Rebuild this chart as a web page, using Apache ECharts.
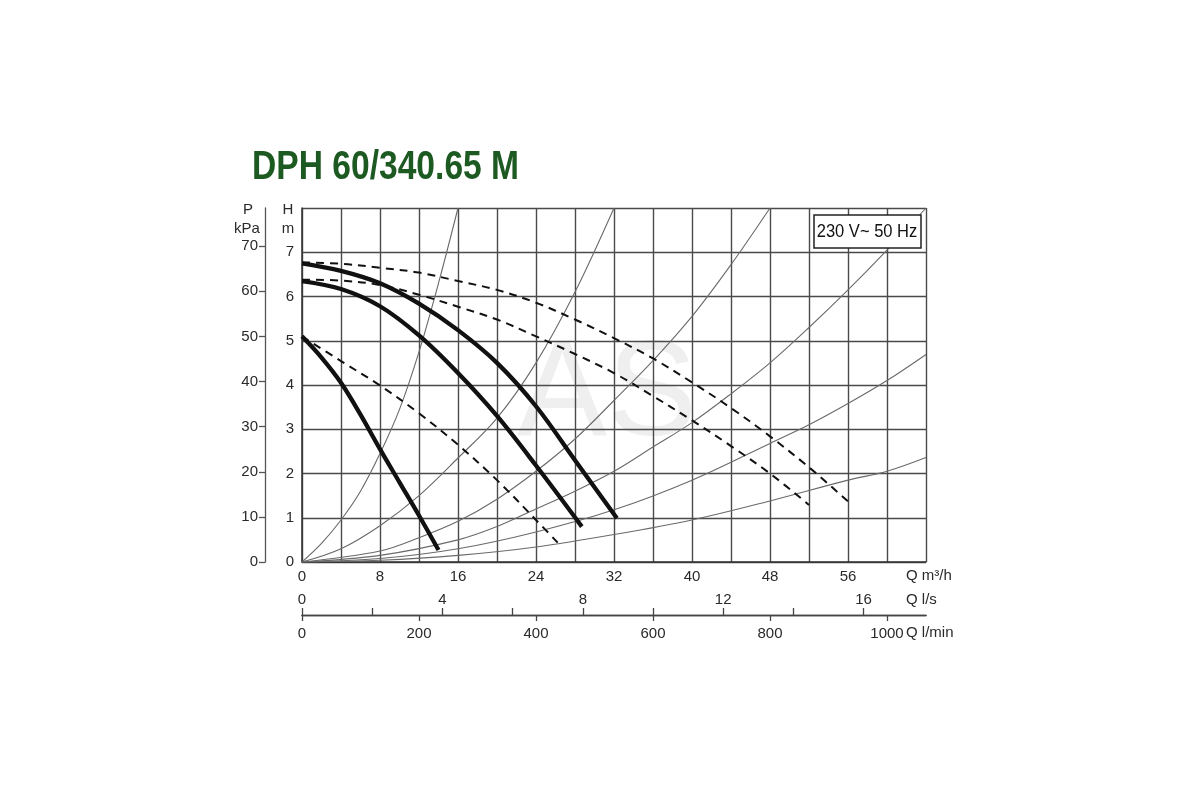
<!DOCTYPE html>
<html>
<head>
<meta charset="utf-8">
<script src="https://cdn.jsdelivr.net/npm/echarts@6/dist/echarts.min.js"></script>
<style>
html,body{margin:0;padding:0;background:#fff;}
#chart{width:1200px;height:800px;}
</style>
</head>
<body>
<div id="chart"></div>
<script>
// ---- Data (Q in m3/h, H in m) ----
const titleText = 'DPH 60/340.65 M';
const supplyText = '230 V~ 50 Hz';

const qTicksMain = [0, 8, 16, 24, 32, 40, 48, 56];
const qLsTicks = [0, 2, 4, 6, 8, 10, 12, 14, 16];
const qLsLabels = [0, 4, 8, 12, 16];
const qLminTicks = [0, 200, 400, 600, 800, 1000];
const pKpaTicks = [0, 10, 20, 30, 40, 50, 60, 70];

// pump curves (solid)
const pumpHighSolid = [[0,6.75],[4,6.58],[8,6.3],[12,5.84],[16,5.24],[20,4.5],[24,3.52],[28,2.3],[32.3,0.99]];
const pumpMidSolid  = [[0,6.35],[4,6.17],[8,5.78],[12,5.12],[16,4.27],[20,3.3],[24,2.18],[28.7,0.8]];
const pumpLowSolid  = [[0,5.1],[2,4.62],[4,4.05],[6,3.33],[8,2.55],[10,1.8],[12,1.05],[14,0.27]];

// pump curves (dashed)
const pumpHighDash = [[0,6.77],[4,6.74],[8,6.65],[12,6.54],[16,6.35],[20,6.15],[24,5.86],[28,5.48],[32,5.06],[36,4.6],[40,4.06],[44,3.48],[48,2.84],[52,2.14],[56,1.37]];
const pumpMidDash  = [[0,6.38],[4,6.36],[8,6.26],[12,6.04],[16,5.77],[20,5.48],[24,5.1],[28,4.7],[32,4.27],[36,3.75],[40,3.2],[44,2.62],[48,2.0],[52,1.29]];
const pumpLowDash  = [[0,5.1],[4,4.54],[8,3.99],[12,3.36],[16,2.65],[20,1.85],[24,0.95],[26.3,0.42]];

// system (thin) curves
const sys1 = [[0,0],[2,0.42],[4,0.95],[6,1.6],[8,2.45],[10,3.45],[12,4.75],[14,6.3],[16,8.0]];
const sys2 = [[0,0],[4,0.3],[8,0.82],[12,1.5],[16,2.35],[20,3.25],[24,4.5],[28,6.1],[32,8.0]];
const sys3 = [[0,0],[8,0.25],[12,0.55],[16,0.92],[20,1.42],[24,2.05],[28,2.78],[32,3.65],[36,4.55],[40,5.55],[44,6.72],[48,8.0]];
const sys4 = [[0,0],[8,0.15],[16,0.5],[20,0.8],[24,1.2],[28,1.6],[32,2.05],[36,2.6],[40,3.15],[44,3.8],[48,4.5],[52,5.3],[56,6.15],[60,7.05],[64,8.0]];
const sys5 = [[0,0],[8,0.08],[16,0.3],[24,0.68],[32,1.18],[40,1.85],[48,2.68],[52,3.1],[56,3.58],[60,4.1],[64,4.69]];
const sys6 = [[0,0],[8,0.04],[16,0.15],[24,0.34],[32,0.62],[40,0.95],[48,1.38],[56,1.85],[60,2.05],[64,2.36]];

// ---- Chart ----
const FONT = '"Liberation Sans", Arial, sans-serif';
const TXT = '#2a2a2a';
const GRIDC = '#4a4a4a';
const chart = echarts.init(document.getElementById('chart'), null, {renderer: 'canvas'});

function base(d) {
  return {type:'line', data:d, smooth:0.35, symbol:'none',
    xAxisIndex:0, yAxisIndex:0, silent:true};
}
function thin(d) {
  return Object.assign(base(d), {lineStyle:{color:'#6a6a6a', width:1.1}, z:2});
}
function thick(d) {
  return Object.assign(base(d), {lineStyle:{color:'#111', width:4.3, cap:'butt'}, z:4});
}
function dashed(d) {
  return Object.assign(base(d), {lineStyle:{color:'#111', width:2, type:[8,6]}, z:3});
}
const hiddenY = function(gi){ return {type:'value', gridIndex:gi, show:false, min:0, max:1}; };
const hiddenX = function(gi){ return {type:'value', gridIndex:gi, show:false, min:0, max:1}; };

const option = {
  backgroundColor:'#fff',
  animation:false,
  textStyle:{fontFamily:FONT},
  grid:[
    {left:302, top:208, width:624, height:354},   // main plot
    {left:265, top:208, width:10, height:354},    // P kPa axis
    {left:302, top:600, width:624, height:15},    // Q l/s axis
    {left:302, top:600, width:624, height:15}     // Q l/min axis
  ],
  xAxis:[
    {type:'value', gridIndex:0, min:0, max:64, interval:4, position:'bottom',
      axisLine:{show:true, lineStyle:{color:'#333', width:1.5}},
      axisTick:{show:false},
      axisLabel:{color:TXT, fontSize:15, fontFamily:FONT, margin:7, customValues:qTicksMain},
      splitLine:{show:true, lineStyle:{color:GRIDC, width:1.4}}},
    hiddenX(1),
    {type:'value', gridIndex:2, min:0, max:64/3.6, position:'bottom',
      axisLine:{show:true, lineStyle:{color:'#444', width:1.3}},
      axisTick:{show:true, inside:true, length:7, lineStyle:{color:'#444', width:1.3}, customValues:qLsTicks},
      axisLabel:{show:true, inside:true, margin:8, color:TXT, fontSize:15, fontFamily:FONT,
        customValues:qLsLabels, formatter:function(v){return String(v);}},
      splitLine:{show:false}},
    {type:'value', gridIndex:3, min:0, max:64*1000/60, position:'bottom',
      axisLine:{show:true, lineStyle:{color:'#444', width:1.3}},
      axisTick:{show:true, inside:false, length:6, lineStyle:{color:'#444', width:1.3}, customValues:qLminTicks},
      axisLabel:{show:true, margin:11, color:TXT, fontSize:15, fontFamily:FONT,
        customValues:qLminTicks, formatter:function(v){return String(v);}},
      splitLine:{show:false}}
  ],
  yAxis:[
    {type:'value', gridIndex:0, min:0, max:8, interval:1, position:'left',
      axisLine:{show:true, lineStyle:{color:'#333', width:1.5}},
      axisTick:{show:false},
      axisLabel:{color:TXT, fontSize:15, fontFamily:FONT, margin:8,
        formatter:function(v){return v < 8 ? String(v) : '';}},
      splitLine:{show:true, lineStyle:{color:GRIDC, width:1.4}}},
    {type:'value', gridIndex:1, min:0, max:8*9.80665, position:'left',
      axisLine:{show:true, lineStyle:{color:'#555', width:1.3}},
      axisTick:{show:true, length:6, lineStyle:{color:'#555', width:1.3}, customValues:pKpaTicks},
      axisLabel:{color:TXT, fontSize:15, fontFamily:FONT, margin:7, customValues:pKpaTicks,
        formatter:function(v){return String(v);}},
      splitLine:{show:false}},
    hiddenY(2), hiddenY(3)
  ],
  series:[
    thin(sys1), thin(sys2), thin(sys3), thin(sys4), thin(sys5), thin(sys6),
    dashed(pumpHighDash), dashed(pumpMidDash), dashed(pumpLowDash),
    thick(pumpHighSolid), thick(pumpMidSolid), thick(pumpLowSolid)
  ],
  graphic:[
    {type:'text', x:607, y:398, z:-10, silent:true,
      style:{text:'AS', fill:'#efefef', font:'135px ' + FONT, align:'center', verticalAlign:'middle'}},
    {type:'text', x:252, y:168, scaleX:0.84, silent:true,
      style:{text:titleText, fill:'#1d5a22', font:'bold 40px ' + FONT, align:'left', verticalAlign:'middle'}},
    {type:'text', x:248, y:210, silent:true,
      style:{text:'P', fill:TXT, font:'15px ' + FONT, align:'center', verticalAlign:'middle'}},
    {type:'text', x:247, y:229, silent:true,
      style:{text:'kPa', fill:TXT, font:'15px ' + FONT, align:'center', verticalAlign:'middle'}},
    {type:'text', x:288, y:210, silent:true,
      style:{text:'H', fill:TXT, font:'15px ' + FONT, align:'center', verticalAlign:'middle'}},
    {type:'text', x:288, y:229, silent:true,
      style:{text:'m', fill:TXT, font:'15px ' + FONT, align:'center', verticalAlign:'middle'}},
    {type:'text', x:906, y:576, silent:true,
      style:{text:'Q m³/h', fill:TXT, font:'15px ' + FONT, align:'left', verticalAlign:'middle'}},
    {type:'text', x:906, y:600, silent:true,
      style:{text:'Q l/s', fill:TXT, font:'15px ' + FONT, align:'left', verticalAlign:'middle'}},
    {type:'text', x:906, y:633, silent:true,
      style:{text:'Q l/min', fill:TXT, font:'15px ' + FONT, align:'left', verticalAlign:'middle'}},
    {type:'rect', z:100, silent:true, shape:{x:814, y:215, width:107, height:33},
      style:{fill:'#fff', stroke:'#222', lineWidth:1.5}},
    {type:'text', z:101, x:867, y:232, scaleX:0.87, silent:true,
      style:{text:supplyText, fill:'#111', font:'19px ' + FONT, align:'center', verticalAlign:'middle'}}
  ]
};
chart.setOption(option);
</script>
</body>
</html>
